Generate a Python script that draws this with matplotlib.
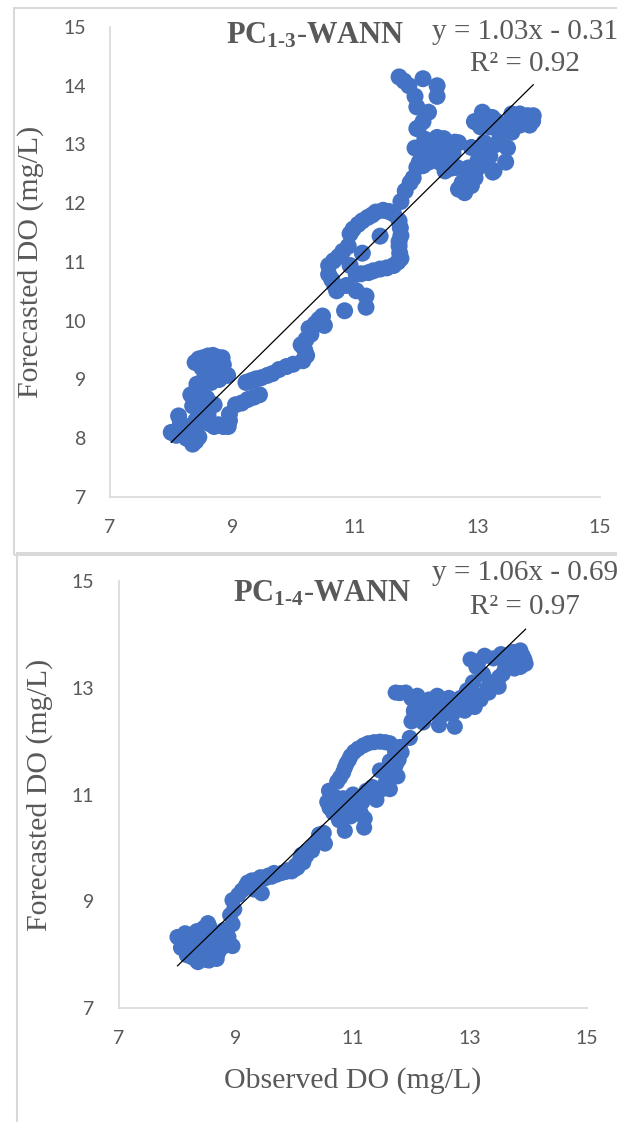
import numpy as np
import matplotlib
matplotlib.use("Agg")
import matplotlib.pyplot as plt
from matplotlib.patches import Rectangle

plt.rcParams['font.family'] = ['Lato', 'DejaVu Sans']
plt.rcParams['mathtext.fontset'] = 'custom'
plt.rcParams['mathtext.rm'] = 'Liberation Serif'
plt.rcParams['mathtext.bf'] = 'Liberation Serif:bold'

# ---- data: PC1-3-WANN ----
obs13 = [8.0, 8.08, 8.12, 8.2, 8.25, 8.35, 8.4, 8.45, 8.3, 8.4, 8.5, 8.55, 8.58, 8.7, 8.62, 8.7,
         8.77, 8.85, 8.93, 8.95, 8.95, 9.05, 9.15, 9.25, 9.35, 9.44, 9.22, 9.3, 9.38, 9.47, 9.57,
         9.65, 9.76, 9.88, 9.99, 10.15, 10.21, 10.18, 10.12, 10.2, 10.28, 10.25, 10.35, 10.41,
         10.47, 10.5, 8.32, 8.42, 8.55, 8.62, 8.39, 8.45, 8.52, 8.6, 8.68, 8.75, 8.83, 8.73, 8.82,
         8.92, 8.65, 8.15, 8.28, 8.45, 8.6, 8.35, 8.5, 8.45, 8.6, 8.7, 8.85, 8.5, 8.78,
         10.57, 10.57, 10.62, 10.67, 10.7, 10.86, 10.83, 11.02, 11.18, 11.18, 10.65, 10.73, 10.8,
         10.89, 10.92, 10.97, 11.05, 11.12, 11.21, 11.28, 11.34, 11.46, 11.55, 11.63, 11.72, 11.74,
         11.75, 11.72, 11.72, 11.73, 11.75, 11.7, 11.63, 11.52, 11.41, 11.3, 11.22, 11.1, 11.02,
         10.92, 11.12, 11.41,
         11.75, 11.82, 11.9, 11.95, 12.01, 12.11, 12.05, 11.98, 12.17, 12.27, 12.14, 12.22, 12.34,
         12.4, 12.47, 12.55, 12.6, 12.69, 12.47, 12.35, 12.01, 12.11, 12.2, 12.01, 11.98, 11.88,
         11.8, 11.72, 12.11, 12.34, 12.34, 12.25, 12.3, 12.45, 12.5, 12.6, 12.38, 12.2, 12.15,
         12.45, 12.58,
         12.66, 12.69, 12.79, 12.75, 12.85, 12.95, 13.01, 13.08, 13.17, 13.27, 13.11, 12.95, 13.08,
         13.15, 13.24, 13.33, 13.4, 13.49, 13.46, 13.37, 13.53, 13.56, 13.62, 13.69, 13.75, 13.82,
         13.91, 13.85, 13.69, 13.56, 13.02, 12.9, 13.09, 12.99, 13.25, 12.96, 12.63, 12.03,
         12.85, 12.9, 13.0, 13.2, 13.3, 13.45, 13.6, 13.7, 13.8, 13.9, 13.2, 13.3, 13.05]
fc13 = [8.1, 8.05, 8.38, 8.15, 8.0, 7.9, 7.95, 8.02, 8.2, 8.3, 8.35, 8.47, 8.68, 8.57, 8.25, 8.2,
        8.23, 8.2, 8.2, 8.41, 8.3, 8.57, 8.6, 8.66, 8.7, 8.74, 8.95, 8.98, 9.01, 9.03, 9.07,
        9.1, 9.17, 9.22, 9.26, 9.32, 9.41, 9.5, 9.59, 9.68, 9.77, 9.87, 9.95, 10.02,
        10.08, 9.92, 8.74, 8.92, 9.05, 9.1, 9.29, 9.35, 9.37, 9.4, 9.41, 9.38, 9.37, 9.13, 9.1,
        9.07, 8.95, 8.25, 8.05, 8.25, 8.4, 8.55, 8.6, 8.8, 9.2, 9.2, 9.25, 9.2, 9.0,
        10.94, 10.79, 10.7, 10.6, 10.51, 10.6, 10.17, 10.51, 10.42, 10.23, 11.02, 11.09, 11.18,
        11.27, 11.48, 11.56, 11.64, 11.7, 11.76, 11.8, 11.85, 11.88, 11.86, 11.82, 11.7, 11.58,
        11.45, 11.35, 11.27, 11.15, 11.06, 11.0, 10.94, 10.9, 10.88, 10.85, 10.82, 10.8, 10.79,
        10.94, 11.15, 11.44,
        12.03, 12.21, 12.35, 12.43, 12.61, 12.64, 12.7, 12.94, 12.79, 12.91, 13.09, 13.0, 13.12,
        13.0, 13.06, 12.95, 13.0, 13.03, 12.55, 12.85, 13.27, 13.39, 13.55, 13.64, 13.82, 14.0,
        14.08, 14.15, 14.12, 14.0, 13.82, 12.85, 13.0, 12.95, 12.8, 12.85, 12.7, 12.7, 12.95,
        13.1, 12.6,
        12.61, 12.24, 12.18, 12.35, 12.43, 12.49, 12.73, 12.85, 12.91, 12.55, 13.03, 13.39, 13.55,
        13.48, 13.46, 13.27, 13.2, 12.94, 12.7, 13.15, 13.39, 13.52, 13.45, 13.52, 13.4, 13.49,
        13.49, 13.33, 13.33, 13.21, 13.35, 12.95, 12.74, 13.38, 12.53, 12.43, 13.04, 13.28,
        12.6, 12.3, 12.6, 12.8, 13.0, 13.3, 13.3, 13.45, 13.4, 13.4, 13.3, 13.4, 13.3]
slope13, icpt13 = 1.03, -0.31

# ---- data: PC1-4-WANN ----
obs14 = [8.0, 8.13, 8.06, 8.16, 8.33, 8.54, 8.67, 8.47, 8.6, 8.8, 8.94, 8.87, 8.73, 8.54, 8.33,
         8.26, 8.4, 8.23, 8.62, 8.52, 8.86, 8.79, 8.94, 8.9, 8.97, 8.94, 9.04, 9.17, 9.27, 9.44,
         9.41, 9.61, 9.78, 9.95, 10.05, 10.15, 10.12, 10.22, 10.32, 10.42, 10.52, 10.42, 10.02,
         9.31, 9.22, 9.42, 9.65, 9.88, 10.28, 10.4, 10.5, 8.09, 8.35, 8.45, 8.7,
         8.2, 8.3, 8.38, 8.45, 8.5, 8.55, 8.62, 8.7, 8.78, 8.85, 8.65, 8.45, 8.35, 8.12, 8.25,
         8.58, 8.72, 8.5, 8.4,
         9.1, 9.2, 9.35, 9.5, 9.7, 9.85, 10.0, 10.08, 10.2, 10.3, 10.38, 10.45, 10.1, 9.55,
         10.59, 10.56, 10.66, 10.76, 10.86, 10.96, 11.13, 11.19, 11.16, 10.83, 11.0, 11.23, 11.4,
         11.33, 11.63, 11.76, 11.73, 11.83, 11.8, 11.63, 11.46, 11.26, 11.09, 10.96, 10.89, 10.83,
         10.73, 11.46, 11.63, 10.62, 10.7,
         10.6, 10.65, 10.75, 10.8, 10.9, 11.05, 11.1, 11.2, 11.3, 11.5, 11.55, 11.7, 11.78, 11.72,
         11.55, 11.36, 11.18, 11.02, 10.93, 10.86, 10.78, 11.6,
         11.97, 12.0, 12.04, 12.2, 11.73, 11.9, 12.1, 12.3, 12.44, 12.64, 12.84, 12.47, 12.74,
         12.7, 12.91, 13.08, 13.18, 13.32, 13.42, 13.49, 13.56, 13.66, 13.76, 13.86, 13.93, 13.86,
         13.73, 13.53, 13.25, 13.01, 13.11, 13.22, 12.55, 12.2, 12.98, 13.6, 13.8, 13.9,
         12.05, 12.15, 12.25, 12.35, 12.5, 12.6, 12.75, 12.9, 13.0, 12.55, 12.4, 12.85, 13.0,
         13.15, 13.3, 13.4, 13.5, 13.6, 13.7, 13.8, 13.95, 13.85, 13.75, 13.62, 13.4, 13.15, 12.0,
         11.8, 12.2, 12.1, 12.95, 13.05]
fc14 = [8.33, 8.4, 8.13, 7.99, 7.89, 7.89, 7.92, 8.06, 8.13, 8.23, 8.16, 8.33, 8.4, 8.54, 8.44,
        8.23, 8.33, 8.06, 8.3, 8.59, 8.27, 8.46, 8.57, 8.74, 8.85, 9.02, 9.12, 9.29, 9.39, 9.15,
        9.43, 9.46, 9.53, 9.56, 9.63, 9.73, 9.87, 9.94, 10.04, 10.15, 10.08, 10.25, 9.67,
        9.22, 9.34, 9.45, 9.53, 9.58, 9.96, 10.15, 10.28, 8.12, 7.86, 8.2, 8.3,
        8.2, 8.1, 7.95, 8.15, 8.3, 8.05, 7.95, 8.05, 8.15, 8.35, 8.4, 8.5, 8.35, 8.25, 7.95,
        8.2, 8.28, 7.9, 8.4,
        9.2, 9.35, 9.4, 9.43, 9.5, 9.55, 9.6, 9.7, 9.85, 9.95, 10.1, 10.2, 9.8, 9.48,
        11.07, 10.86, 10.66, 10.52, 10.32, 10.59, 10.66, 10.38, 10.86, 10.93, 11.0, 11.07, 10.9,
        11.14, 11.1, 11.34, 11.55, 11.79, 11.89, 11.96, 11.99, 11.96, 11.86, 11.72, 11.58, 11.41,
        11.24, 11.45, 11.62, 10.8, 10.95,
        10.75, 10.95, 10.8, 10.65, 10.75, 10.9, 10.8, 10.55, 11.05, 11.1, 11.2, 11.45, 11.65, 11.8,
        11.98, 11.98, 11.92, 11.8, 11.65, 11.5, 11.32, 11.35,
        12.06, 12.37, 12.57, 12.44, 12.91, 12.91, 12.85, 12.78, 12.85, 12.81, 12.81, 12.3, 12.27,
        12.5, 12.57, 12.64, 12.78, 12.91, 13.12, 13.02, 13.26, 13.39, 13.36, 13.39, 13.53, 13.7,
        13.67, 13.63, 13.6, 13.53, 13.39, 13.26, 12.7, 12.65, 12.7, 13.45, 13.55, 13.6,
        12.5, 12.6, 12.7, 12.75, 12.7, 12.75, 12.7, 12.75, 12.8, 12.5, 12.55, 12.6, 12.7,
        12.85, 13.0, 13.05, 13.2, 13.35, 13.5, 13.6, 13.45, 13.5, 13.65, 13.6, 13.55, 13.5, 12.8,
        12.9, 12.35, 12.6, 12.95, 13.1]
slope14, icpt14 = 1.06, -0.69

blue = '#4472C4'
grey = '#595959'
spine = '#D9D9D9'

fig = plt.figure(figsize=(6.17, 11.22), dpi=100)

# chart area borders
fig.patches.append(Rectangle((14 / 617, 1 - 555 / 1122), 0.99, 547 / 1122, transform=fig.transFigure,
                             fill=False, edgecolor=spine, lw=1.5))
fig.patches.append(Rectangle((17 / 617, -0.01), 0.99, 1 - 553 / 1122 + 0.01, transform=fig.transFigure,
                             fill=False, edgecolor=spine, lw=1.5))


def panel(rect, x, y, slope, icpt, sub, r2, yticks, ms, eq_xy, r2_xy, title_xy, ylab_x, ypad,
          xlabel=None):
    ax = fig.add_axes(rect)
    ax.scatter(x, y, s=ms, color=blue, edgecolors='none', zorder=2)
    xs = np.array([min(x), max(x)])
    ax.plot(xs, slope * xs + icpt, color='black', lw=0.9, zorder=3)
    ax.set_xlim(7, 15)
    ax.set_ylim(7, 15)
    ax.set_xticks([7, 9, 11, 13, 15])
    ax.set_yticks(yticks)
    for s in ['top', 'right']:
        ax.spines[s].set_visible(False)
    for s in ['left', 'bottom']:
        ax.spines[s].set_color(spine)
        ax.spines[s].set_linewidth(1.2)
    ax.tick_params(length=0, labelsize=14, colors=grey, pad=16)
    ax.tick_params(axis='y', pad=ypad)
    ax.set_ylabel('Forecasted DO (mg/L)', family='Liberation Serif', fontsize=21.5, color=grey)
    ax.yaxis.set_label_coords(ylab_x, 0.5)
    if xlabel:
        ax.set_xlabel(xlabel, family='Liberation Serif', fontsize=21.5, color=grey, labelpad=14)
    fig.text(title_xy[0] / 617, 1 - title_xy[1] / 1122,
             r'$\mathbf{PC_{1\text{-}%s}\text{-}WANN}$' % sub,
             fontsize=22, color=grey, ha='center', va='center')
    sign = '-' if icpt < 0 else '+'
    fig.text(eq_xy[0] / 617, 1 - eq_xy[1] / 1122, 'y = %.2fx %s %.2f' % (slope, sign, abs(icpt)),
             family='Liberation Serif', fontsize=21, color=grey, ha='left', va='center')
    fig.text(r2_xy[0] / 617, 1 - r2_xy[1] / 1122, 'R² = %.2f' % r2,
             family='Liberation Serif', fontsize=21, color=grey, ha='left', va='center')
    return ax


panel([110 / 617, 1 - 497 / 1122, 490 / 617, 470 / 1122], obs13, fc13, slope13, icpt13, '3', 0.92,
      [7, 8, 9, 10, 11, 12, 13, 14, 15], 150, (432, 32), (470, 64), (315, 35), -0.135, 17)
panel([119 / 617, 1 - 1008 / 1122, 468 / 617, 427 / 1122], obs14, fc14, slope14, icpt14, '4', 0.97,
      [7, 9, 11, 13, 15], 135, (432, 573), (470, 607), (322, 593), -0.14, 18,
      xlabel='Observed DO (mg/L)')

fig.savefig('out.png', dpi=100)
